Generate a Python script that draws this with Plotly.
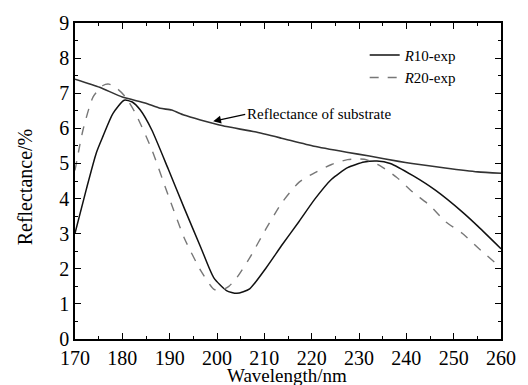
import plotly.graph_objects as go

wl_sub = [170, 175.2, 180, 184.8, 188, 190.4, 193, 196.5, 199.3, 202, 208, 213.6, 220.5, 227.4, 232.2, 238.4, 241.2, 248.2, 255.1, 260]
r_sub = [7.40, 7.17, 6.89, 6.72, 6.57, 6.52, 6.38, 6.24, 6.14, 6.05, 5.90, 5.72, 5.49, 5.32, 5.21, 5.06, 5.00, 4.87, 4.76, 4.72]

wl_r10 = [170, 172.4, 174.5, 175.9, 178, 180.4, 182.1, 183.8, 186.2, 189.7, 193.1, 196.6, 199.3, 202, 204.2, 206.9, 210.4, 213.8, 217.3, 220.7, 224.2, 227.6, 231.1, 233.8, 236.6, 241.4, 246.2, 251.8, 255.2, 260]
r_r10 = [3.01, 4.27, 5.30, 5.77, 6.42, 6.80, 6.75, 6.52, 5.96, 4.84, 3.72, 2.60, 1.75, 1.38, 1.30, 1.43, 2.03, 2.69, 3.34, 3.99, 4.55, 4.88, 5.04, 5.07, 5.00, 4.65, 4.23, 3.62, 3.20, 2.57]

wl_r20 = [170, 171.7, 173.8, 175.9, 177.2, 179, 180.7, 182.8, 186.2, 189.7, 193.1, 196.6, 199.3, 200.6, 202.5, 204.2, 206.9, 210.4, 213.8, 217.3, 220.7, 224.2, 227.6, 231.1, 234.5, 238, 241.4, 244.9, 248.3, 251.8, 255.2, 260]
r_r20 = [4.80, 5.96, 6.89, 7.22, 7.26, 7.12, 6.89, 6.42, 5.40, 4.09, 2.87, 1.94, 1.42, 1.37, 1.50, 1.75, 2.31, 3.15, 3.90, 4.46, 4.74, 4.97, 5.11, 5.12, 4.93, 4.60, 4.18, 3.81, 3.34, 3.01, 2.59, 2.03]

FONT = "Liberation Serif"

fig = go.Figure()
fig.add_trace(go.Scatter(x=wl_sub, y=r_sub, mode="lines", line=dict(color="#333333", width=1.6, shape="spline", smoothing=0.5),
                         showlegend=False))
fig.add_trace(go.Scatter(x=wl_r10, y=r_r10, mode="lines", line=dict(color="#111111", width=1.5, shape="spline", smoothing=0.6),
                         name="<i>R</i>10-exp"))
fig.add_trace(go.Scatter(x=wl_r20, y=r_r20, mode="lines", line=dict(color="#777777", width=1.4, dash="dash", shape="spline", smoothing=0.6),
                         name="<i>R</i>20-exp"))

axis_common = dict(showgrid=False, zeroline=False, showline=True, linecolor="black", linewidth=1.5,
                   mirror="ticks", ticks="inside", ticklen=6, tickwidth=1.2, tickcolor="black",
                   tickfont=dict(family=FONT, size=20, color="black"))

fig.update_xaxes(range=[170, 260], dtick=10,
                 minor=dict(ticks="inside", ticklen=3, dtick=5, tickcolor="black"), **axis_common)
fig.update_yaxes(range=[0, 9], dtick=1,
                 minor=dict(ticks="inside", ticklen=3, dtick=0.5, tickcolor="black"), **axis_common)

fig.add_annotation(xref="paper", yref="paper", x=0.497, y=0, yshift=-36, yanchor="middle", xanchor="center",
                   text="Wavelength/nm", showarrow=False, font=dict(family=FONT, size=19, color="black"))
fig.add_annotation(xref="paper", yref="paper", x=0, xshift=-50, y=0.48, yanchor="middle", xanchor="center",
                   text="Reflectance/%", textangle=-90, showarrow=False, font=dict(family=FONT, size=20, color="black"))

fig.add_annotation(x=199.2, y=6.2, ax=32, ay=-7, text="Reflectance of substrate", showarrow=True,
                   arrowhead=2, arrowsize=1.3, arrowwidth=1.2, arrowcolor="black", xanchor="left",
                   font=dict(family=FONT, size=15, color="black"))

fig.update_layout(width=528, height=385, margin=dict(l=75, r=20, t=19, b=46),
                  paper_bgcolor="white", plot_bgcolor="white",
                  legend=dict(x=0.68, y=0.95, xanchor="left", yanchor="top", bgcolor="rgba(0,0,0,0)",
                              font=dict(family=FONT, size=15, color="black"), tracegroupgap=0, itemwidth=30))

fig.write_html("out.html", config={"displayModeBar": False},
               post_script="document.body.style.margin='0px';document.body.style.overflow='hidden';")
